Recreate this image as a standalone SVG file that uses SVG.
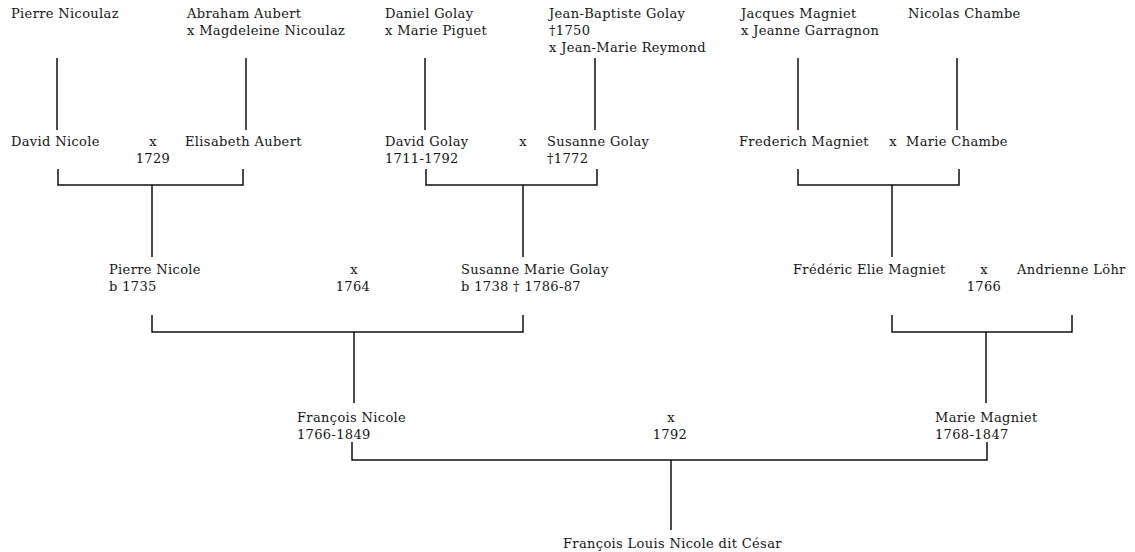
<svg xmlns="http://www.w3.org/2000/svg" width="1135" height="552" viewBox="0 0 1135 552">
<style>
text{font-family:"DejaVu Serif","Liberation Serif",serif;font-size:13px;letter-spacing:0.35px;fill:#151515}
.m{text-anchor:middle}
.c line,.c polyline{stroke:#111;stroke-width:1.5;fill:none}
</style>
<rect width="1135" height="552" fill="#fff"/>
<g class="c" id="connectors">
<line x1="57" y1="58" x2="57" y2="130"/>
<line x1="246" y1="58" x2="246" y2="130"/>
<line x1="425" y1="58" x2="425" y2="130"/>
<line x1="595" y1="58" x2="595" y2="130"/>
<line x1="798" y1="58" x2="798" y2="130"/>
<line x1="957" y1="58" x2="957" y2="130"/>
<polyline points="58,169 58,185 243,185 243,169"/>
<line x1="152" y1="185" x2="152" y2="257"/>
<polyline points="426,169 426,185 597,185 597,169"/>
<line x1="523" y1="185" x2="523" y2="257"/>
<polyline points="798,169 798,185 959,185 959,169"/>
<line x1="892" y1="185" x2="892" y2="257"/>
<polyline points="152,315 152,332 523,332 523,315"/>
<line x1="354" y1="332" x2="354" y2="403"/>
<polyline points="892,315 892,332 1072,332 1072,315"/>
<line x1="986" y1="332" x2="986" y2="403"/>
<polyline points="352,442 352,460 987,460 987,442"/>
<line x1="671" y1="460" x2="671" y2="530"/>
</g>
<g id="pierre-nicoulaz"><text x="11" y="18">Pierre Nicoulaz</text></g>
<g id="abraham-aubert"><text x="187" y="18">Abraham Aubert</text><text x="187" y="35">x Magdeleine Nicoulaz</text></g>
<g id="daniel-golay"><text x="385" y="18">Daniel Golay</text><text x="385" y="35">x Marie Piguet</text></g>
<g id="jean-baptiste-golay"><text x="549" y="18">Jean-Baptiste Golay</text><text x="549" y="35">†1750</text><text x="549" y="52">x Jean-Marie Reymond</text></g>
<g id="jacques-magniet"><text x="741" y="18">Jacques Magniet</text><text x="741" y="35">x Jeanne Garragnon</text></g>
<g id="nicolas-chambe"><text x="908" y="18">Nicolas Chambe</text></g>
<g id="david-nicole"><text x="11" y="146">David Nicole</text></g>
<g id="m1729"><text class="m" x="153" y="146">x</text><text class="m" x="153" y="163">1729</text></g>
<g id="elisabeth-aubert"><text x="185" y="146">Elisabeth Aubert</text></g>
<g id="david-golay"><text x="385" y="146">David Golay</text><text x="385" y="163">1711-1792</text></g>
<g id="m-golay"><text class="m" x="523" y="146">x</text></g>
<g id="susanne-golay"><text x="547" y="146">Susanne Golay</text><text x="547" y="163">†1772</text></g>
<g id="frederich-magniet"><text x="739" y="146">Frederich Magniet</text></g>
<g id="m-magniet"><text class="m" x="893" y="146">x</text></g>
<g id="marie-chambe"><text x="906" y="146">Marie Chambe</text></g>
<g id="pierre-nicole"><text x="109" y="274">Pierre Nicole</text><text x="109" y="291">b 1735</text></g>
<g id="m1764"><text class="m" x="354" y="274">x</text><text class="m" x="353" y="291">1764</text></g>
<g id="susanne-marie-golay"><text x="461" y="274">Susanne Marie Golay</text><text x="461" y="291">b 1738 † 1786-87</text></g>
<g id="frederic-elie-magniet"><text x="793" y="274">Frédéric Elie Magniet</text></g>
<g id="m1766"><text class="m" x="984" y="274">x</text><text class="m" x="984" y="291">1766</text></g>
<g id="andrienne-lohr"><text x="1017" y="274">Andrienne Löhr</text></g>
<g id="francois-nicole"><text x="297" y="422">François Nicole</text><text x="297" y="439">1766-1849</text></g>
<g id="m1792"><text class="m" x="671" y="422">x</text><text class="m" x="670" y="439">1792</text></g>
<g id="marie-magniet"><text x="935" y="422">Marie Magniet</text><text x="935" y="439">1768-1847</text></g>
<g id="francois-louis-nicole"><text x="563" y="548">François Louis Nicole dit César</text></g>
</svg>
